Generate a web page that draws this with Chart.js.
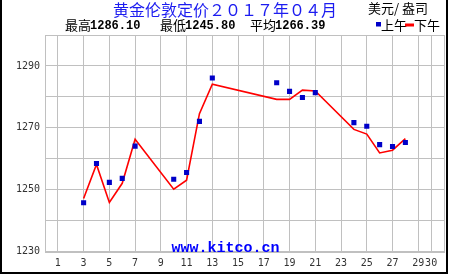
<!DOCTYPE html>
<html>
<head>
<meta charset="utf-8">
<script src="https://cdn.jsdelivr.net/npm/chart.js@4/dist/chart.umd.min.js"></script>
<style>
html,body{margin:0;padding:0;background:#fff;}
canvas{display:block;}
</style>
</head>
<body>
<canvas id="c" width="450" height="275"></canvas>
<script>
// ---- data ----
const titleText = '黄金伦敦定价２０１７年０４月';
const unitText = '美元/ 盎司';
const statLabels = ['最高', '最低', '平均'];
const statValues = ['1286.10', '1245.80', '1266.39'];
const legendLabels = ['上午', '下午'];
const watermark = 'www.kitco.cn';

const days = [3, 4, 5, 6, 7, 10, 11, 12, 13, 18, 19, 20, 21, 24, 25, 26, 27, 28];
const amPrices = [1245.8, 1258.5, 1252.4, 1253.7, 1264.1, 1253.4, 1255.6, 1272.1, 1286.1, 1284.6, 1281.8, 1279.8, 1281.4, 1271.7, 1270.5, 1264.6, 1264.0, 1265.3];
const pmPrices = [1247.2, 1258.2, 1245.9, 1252.1, 1266.3, 1250.2, 1253.1, 1274.6, 1284.1, 1279.2, 1279.2, 1282.2, 1281.9, 1269.5, 1268.0, 1261.9, 1262.8, 1266.5];

const xTickLabels = [1, 3, 5, 7, 9, 11, 13, 15, 17, 19, 21, 23, 25, 27, 29, 30];
const yGridValues = [1230, 1240, 1250, 1260, 1270, 1280, 1290, 1300];
const yTickLabels = [1230, 1250, 1270, 1290];

const decor = {
  id: 'decor',
  afterDraw(chart) {
    const ctx = chart.ctx;
    const a = chart.chartArea;
    ctx.save();
    // plot frame
    ctx.strokeStyle = '#c0c0c0';
    ctx.lineWidth = 1;
    ctx.strokeRect(Math.round(a.left) + 0.5, Math.round(a.top) + 0.5, Math.round(a.right - a.left), Math.round(a.bottom - a.top));
    // watermark
    ctx.fillStyle = '#0000ff';
    ctx.font = 'bold 15px "Liberation Mono", monospace';
    ctx.textAlign = 'center';
    ctx.textBaseline = 'alphabetic';
    ctx.fillText(watermark, 225.5, 251.5);
    // title
    ctx.fillStyle = '#1c1cf0';
    ctx.font = '16px "Noto Sans CJK SC"';
    ctx.textBaseline = 'middle';
    ctx.fillText(titleText, 225, 9.5);
    // unit
    ctx.fillStyle = '#000';
    ctx.textAlign = 'left';
    ctx.font = '13px "Noto Sans CJK SC"';
    ctx.fillText(unitText, 368, 8);
    // stats
    const lx = [65, 160, 250];
    const nx = [90, 185, 275];
    for (let i = 0; i < 3; i++) {
      ctx.font = '13px "Noto Sans CJK SC"';
      ctx.fillText(statLabels[i], lx[i], 25.5);
      ctx.font = 'bold 12px "Liberation Mono", monospace';
      ctx.fillText(statValues[i], nx[i], 26);
    }
    // legend
    ctx.fillStyle = '#0000c8';
    ctx.fillRect(376, 22, 5, 4.5);
    ctx.fillStyle = '#000';
    ctx.font = '13px "Noto Sans CJK SC"';
    ctx.fillText(legendLabels[0], 381, 25.5);
    ctx.fillStyle = '#ff0000';
    ctx.fillRect(405, 23.5, 9, 3);
    ctx.fillStyle = '#000';
    ctx.fillText(legendLabels[1], 414, 25.5);
    // outer border
    ctx.fillStyle = '#000';
    ctx.fillRect(0, 0, 2, 274);
    ctx.fillRect(446, 0, 2, 274);
    ctx.fillRect(0, 272, 448, 2);
    ctx.restore();
  }
};

new Chart(document.getElementById('c'), {
  type: 'line',
  data: {
    datasets: [
      {
        label: legendLabels[0],
        data: days.map((d, i) => ({ x: d, y: amPrices[i] })),
        showLine: false,
        pointStyle: 'rect',
        pointRadius: 3.6,
        pointBorderWidth: 0,
        pointBackgroundColor: '#0000c8',
        borderColor: '#0000c8',
        order: 0
      },
      {
        label: legendLabels[1],
        data: days.map((d, i) => ({ x: d, y: pmPrices[i] })),
        borderColor: '#ff0000',
        borderWidth: 1.6,
        pointRadius: 0,
        tension: 0,
        fill: false,
        order: 1
      }
    ]
  },
  options: {
    responsive: false,
    animation: false,
    devicePixelRatio: 1,
    layout: { padding: { top: 35, right: 6, left: 0, bottom: 0 } },
    plugins: { legend: { display: false }, tooltip: { enabled: false } },
    scales: {
      x: {
        type: 'linear',
        min: 0,
        max: 31,
        afterBuildTicks(s) { s.ticks = xTickLabels.map(v => ({ value: v })); },
        afterFit(s) { s.height = 23.3; },
        grid: { color: '#c0c0c0', drawTicks: false, lineWidth: 1 },
        border: { display: false },
        ticks: {
          autoSkip: false, maxRotation: 0, padding: 6,
          color: '#333',
          font: { family: '"DejaVu Sans Mono", monospace', size: 10 },
          callback: v => String(v)
        }
      },
      y: {
        min: 1230,
        max: 1300,
        afterBuildTicks(s) { s.ticks = yGridValues.map(v => ({ value: v })); },
        afterFit(s) { s.width = 45; },
        grid: { color: '#c0c0c0', drawTicks: false, lineWidth: 1 },
        border: { display: false },
        ticks: {
          autoSkip: false, padding: 5,
          color: '#333',
          font: { family: '"DejaVu Sans Mono", monospace', size: 10 },
          callback: v => yTickLabels.includes(v) ? String(v) : ''
        }
      }
    }
  },
  plugins: [decor]
});
</script>
</body>
</html>
